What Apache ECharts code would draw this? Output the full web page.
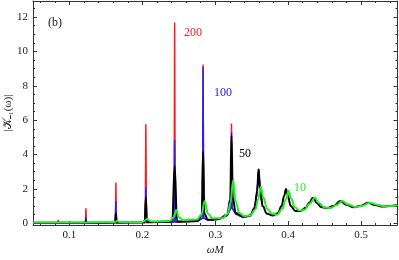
<!DOCTYPE html>
<html><head><meta charset="utf-8">
<script src="https://cdn.jsdelivr.net/npm/echarts@6/dist/echarts.min.js"></script>
<style>html,body{margin:0;padding:0;background:#fff}#c{width:399px;height:260px}</style>
</head><body><div id="c"></div>
<script>
// ---- data ----
const xMajorTicks = [0.1, 0.2, 0.3, 0.4, 0.5];
const xMinorTicks = [0.06,0.08,0.12,0.14,0.16,0.18,0.22,0.24,0.26,0.28,0.32,0.34,0.36,0.38,0.42,0.44,0.46,0.48,0.52,0.54];
const yMajorTicks = [0, 2, 4, 6, 8, 10, 12];
const yMinorTicks = [0.5,1,1.5,2.5,3,3.5,4.5,5,5.5,6.5,7,7.5,8.5,9,9.5,10.5,11,11.5,12.5];

const series200 = [[0.05,0.02],[0.084,0.02],[0.0845,0.2],[0.085,0.02],[0.122,0.02],[0.1226,0.87],[0.1232,0.02],[0.163,0.03],[0.1637,2.38],[0.1644,0.03],[0.204,0.05],[0.2048,5.77],[0.2056,0.05],[0.2435,0.08],[0.2443,11.69],[0.2451,0.08],[0.276,0.12],[0.2825,0.3],[0.2833,9.25],[0.2841,0.3],[0.29,0.19],[0.305,0.24],[0.3165,0.45],[0.3215,0.9],[0.3223,5.81],[0.3231,0.9],[0.328,0.55],[0.338,0.35],[0.348,0.42],[0.354,0.85],[0.3575,1.85],[0.3595,3.14],[0.3615,1.95],[0.365,0.95]];
const series100 = [[0.05,0.02],[0.122,0.02],[0.1226,0.35],[0.1232,0.02],[0.163,0.03],[0.1637,1.3],[0.1644,0.03],[0.204,0.05],[0.2048,2.09],[0.2056,0.05],[0.2435,0.08],[0.2443,4.84],[0.2451,0.08],[0.276,0.12],[0.2825,0.3],[0.2833,9.1],[0.2841,0.3],[0.29,0.19],[0.305,0.24],[0.3165,0.45],[0.3215,0.9],[0.3223,5.3],[0.3231,0.9],[0.328,0.55],[0.338,0.35],[0.348,0.42],[0.354,0.85],[0.3575,1.85],[0.3595,3.14],[0.3615,1.95],[0.365,0.95]];
const series50 = [[0.05,0.03],[0.1215,0.03],[0.1226,0.16],[0.1237,0.03],[0.1625,0.04],[0.1637,0.58],[0.1649,0.05],[0.2032,0.06],[0.2048,1.49],[0.2064,0.07],[0.241,0.1],[0.2443,3.33],[0.2476,0.1],[0.276,0.14],[0.2815,0.5],[0.2833,4.16],[0.2851,0.55],[0.29,0.2],[0.305,0.25],[0.3165,0.5],[0.3205,1.4],[0.3223,5.1],[0.3241,1.5],[0.328,0.6],[0.338,0.38],[0.348,0.45],[0.354,0.9],[0.3575,1.9],[0.3595,3.14],[0.3615,2.0],[0.365,1.0],[0.371,0.55],[0.379,0.45],[0.386,0.6],[0.391,1.0],[0.3945,1.6],[0.397,2.0],[0.3995,1.6],[0.4035,1.0],[0.41,0.72],[0.417,0.72],[0.424,0.9],[0.429,1.2],[0.434,1.49],[0.439,1.2],[0.445,0.95],[0.453,0.88],[0.462,1.0],[0.4715,1.3],[0.48,1.08],[0.49,0.93],[0.5,1.02],[0.5095,1.2],[0.519,1.07],[0.53,0.97],[0.54,1.0],[0.55,1.06]];
const series10 = [[0.05,0.05],[0.12,0.05],[0.16,0.06],[0.163,0.09],[0.1655,0.13],[0.168,0.08],[0.2,0.08],[0.203,0.14],[0.2065,0.27],[0.21,0.14],[0.215,0.1],[0.238,0.15],[0.243,0.35],[0.2465,0.78],[0.25,0.35],[0.256,0.18],[0.275,0.22],[0.281,0.5],[0.2855,1.3],[0.29,0.55],[0.296,0.3],[0.31,0.3],[0.317,0.55],[0.321,1.2],[0.3245,2.5],[0.328,1.3],[0.333,0.6],[0.34,0.42],[0.348,0.45],[0.355,0.8],[0.359,1.4],[0.3625,2.13],[0.366,1.5],[0.371,0.85],[0.378,0.55],[0.385,0.5],[0.392,0.85],[0.397,1.4],[0.4005,1.9],[0.404,1.45],[0.409,0.95],[0.415,0.75],[0.422,0.78],[0.43,1.15],[0.4365,1.5],[0.442,1.2],[0.45,0.92],[0.458,0.88],[0.466,1.05],[0.474,1.3],[0.482,1.1],[0.492,0.95],[0.502,1.02],[0.512,1.2],[0.522,1.08],[0.532,0.99],[0.542,1.0],[0.55,1.06]];

const seriesNames = ['200', '100', '50', '10'];
const seriesColors = ['#ff1a1a', '#2222ff', '#000000', '#22ee22'];

// ---- chart ----
const X_MIN = 0.05, X_MAX = 0.55, Y_MIN = -0.1, Y_MAX = 12.94;
const font = 'Liberation Serif';
const tickStyle = {color: '#333', width: 1};

function xAx(pos, major, labels) {
  return {
    type: 'value', position: pos, min: X_MIN, max: X_MAX, offset: 0,
    axisLine: {show: major, onZero: false, lineStyle: {color: '#333', width: 1}},
    axisTick: {show: true, inside: true, length: major ? 4 : 2, lineStyle: tickStyle,
      customValues: major ? xMajorTicks : xMinorTicks},
    axisLabel: {show: labels, customValues: xMajorTicks, margin: 5, color: '#222',
      fontFamily: font, fontSize: 11, formatter: v => String(+v.toFixed(2))},
    splitLine: {show: false},
    name: labels ? 'ωM' : '', nameLocation: 'middle', nameGap: 20, nameMoveOverlap: false,
    nameTextStyle: {fontFamily: font, fontStyle: 'italic', fontSize: 11, color: '#222'}
  };
}
function yAx(pos, major, labels) {
  return {
    type: 'value', position: pos, min: Y_MIN, max: Y_MAX, offset: 0,
    axisLine: {show: major, onZero: false, lineStyle: {color: '#333', width: 1}},
    axisTick: {show: true, inside: true, length: major ? 4 : 2, lineStyle: tickStyle,
      customValues: major ? yMajorTicks : yMinorTicks},
    axisLabel: {show: labels, customValues: yMajorTicks, margin: 5, color: '#222',
      fontFamily: font, fontSize: 11},
    splitLine: {show: false},
    name: labels ? '|𝒦₋₁(ω)|' : '', nameLocation: 'middle', nameGap: 19, nameRotate: 90,
    nameMoveOverlap: false,
    nameTextStyle: {fontFamily: font, fontSize: 11, color: '#222'}
  };
}

const dataSets = [series200, series100, series50, series10];
const widths = [1.5, 1.5, 2, 2];
const smooths = [false, false, 0.4, 0.4];

const chart = echarts.init(document.getElementById('c'), null, {renderer: 'canvas'});
chart.setOption({
  animation: false,
  backgroundColor: '#fff',
  grid: {left: 33, right: 1.5, top: 1, bottom: 35, containLabel: false, outerBoundsMode: 'none'},
  xAxis: [xAx('bottom', true, true), xAx('bottom', false, false), xAx('top', true, false), xAx('top', false, false)],
  yAxis: [yAx('left', true, true), yAx('left', false, false), yAx('right', true, false), yAx('right', false, false)],
  series: seriesNames.map((n, i) => ({
    name: n, type: 'line', xAxisIndex: 0, yAxisIndex: 0,
    data: dataSets[i],
    showSymbol: false, symbol: 'none', smooth: smooths[i], smoothMonotone: 'x',
    lineStyle: {color: seriesColors[i], width: widths[i]}, z: 2 + i
  })),
  graphic: [
    {type: 'text', left: 48, top: 17, style: {text: '(b)', font: '12px "Liberation Serif"', fill: '#222'}},
    {type: 'text', left: 184, top: 27, style: {text: seriesNames[0], font: '12px "Liberation Serif"', fill: seriesColors[0]}},
    {type: 'text', left: 214, top: 87, style: {text: seriesNames[1], font: '12px "Liberation Serif"', fill: seriesColors[1]}},
    {type: 'text', left: 239, top: 148, style: {text: seriesNames[2], font: '12px "Liberation Serif"', fill: seriesColors[2]}},
    {type: 'text', left: 294, top: 182, style: {text: seriesNames[3], font: '12px "Liberation Serif"', fill: seriesColors[3]}}
  ]
});
</script></body></html>
